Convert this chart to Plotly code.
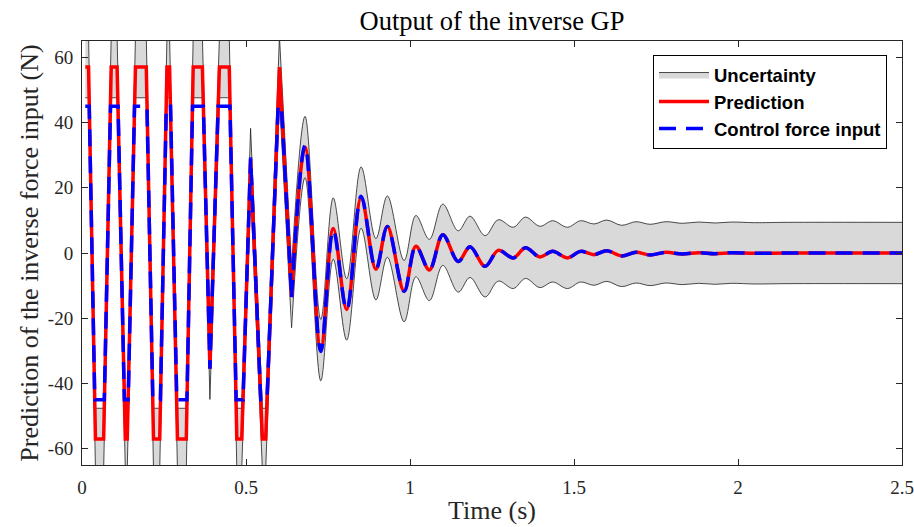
import plotly.graph_objects as go

# ---- data ----
# early (saturated, piecewise-linear) part of the prediction
t_pred_early = [0.010, 0.020, 0.041, 0.066, 0.089, 0.107, 0.132, 0.138, 0.163, 0.196,
                0.218, 0.237, 0.259, 0.267, 0.291, 0.318, 0.339, 0.367, 0.390, 0.419,
                0.449, 0.472, 0.487, 0.514, 0.550, 0.560, 0.602, 0.639]
pred_early = [57, 57, -57, -57, 57, 57, -57, -57, 57, 57,
              -57, -57, 57, 57, -57, -57, 57, 57, -35.5, 57,
              57, -57, -57, 28.8, -57, -57, 57, -13.5]

# early part of the control force input (saturated at +/-45)
t_ctrl_early = [0.010, 0.022, 0.039, 0.068, 0.087, 0.110, 0.129, 0.141, 0.160, 0.198,
                0.216, 0.239, 0.257, 0.270, 0.289, 0.320, 0.337, 0.370, 0.390, 0.415,
                0.451, 0.470, 0.491, 0.514, 0.545, 0.564, 0.598, 0.608, 0.639]
ctrl_early = [45, 45, -45, -45, 45, 45, -45, -45, 45, 45,
              -45, -45, 45, 45, -45, -45, 45, 45, -35.5, 45,
              45, -45, -45, 29.3, -45, -45, 45, 45, -13.5]

# later, smoothly decaying part (extrema)
t_late = [0.639, 0.680, 0.728, 0.766, 0.807, 0.851, 0.896, 0.931, 0.982, 1.018,
          1.059, 1.100, 1.147, 1.183, 1.229, 1.269, 1.315, 1.352, 1.396, 1.435,
          1.480, 1.520, 1.561, 1.600, 1.645, 1.689, 1.732, 1.780, 1.830, 1.880,
          1.930, 1.980, 2.050, 2.150, 2.500]
pred_late = [-13.5, 32.5, -29.8, 7.5, -17.3, 17.0, -5.0, 8.1, -11.7, 2.1,
             -5.2, 5.6, -2.6, 1.9, -4.1, 0.8, -1.5, 1.6, -1.2, 0.5,
             -1.5, 0.5, -0.5, 0.7, -0.9, 0.2, -0.6, 0.2, -0.3, 0.1,
             -0.2, 0.1, -0.1, 0.0, 0.0]
ctrl_late = [-13.5, 33.0, -30.2, 7.0, -17.4, 17.4, -5.0, 8.1, -11.7, 2.1,
             -5.2, 5.6, -2.6, 1.9, -4.1, 0.8, -1.5, 1.6, -1.2, 0.5,
             -1.5, 0.5, -0.5, 0.7, -0.9, 0.2, -0.6, 0.2, -0.3, 0.1,
             -0.2, 0.1, -0.1, 0.0, 0.0]

# half-width of the grey uncertainty band
uncertainty_halfwidth = 9.4

x_tick_vals = [0, 0.5, 1, 1.5, 2, 2.5]
x_tick_text = ['0', '0.5', '1', '1.5', '2', '2.5']
y_tick_vals = [-60, -40, -20, 0, 20, 40, 60]
y_tick_text = ['-60', '-40', '-20', '0', '20', '40', '60']

# ---- figure ----
BAND_FILL = 'rgb(217,217,217)'
BAND_EDGE = 'rgb(30,30,30)'
RED = 'rgb(255,0,0)'
BLUE = 'rgb(0,0,255)'
LW = 3.5
DASH = '17px,10px'

fig = go.Figure()

def band(ts, ps, shape, show):
    lo = [p - uncertainty_halfwidth for p in ps]
    hi = [p + uncertainty_halfwidth for p in ps]
    fig.add_trace(go.Scatter(x=ts, y=lo, mode='lines',
                             line=dict(color=BAND_EDGE, width=0.8, shape=shape),
                             showlegend=False, legendgroup='unc', hoverinfo='skip'))
    fig.add_trace(go.Scatter(x=ts, y=hi, mode='lines', fill='tonexty',
                             fillcolor=BAND_FILL,
                             line=dict(color=BAND_EDGE, width=0.8, shape=shape),
                             name='<b>Uncertainty</b>', showlegend=show,
                             legendgroup='unc', hoverinfo='skip'))

band(t_pred_early, pred_early, 'linear', True)
band(t_late, pred_late, 'spline', False)

fig.add_trace(go.Scatter(x=t_pred_early, y=pred_early, mode='lines',
                         line=dict(color=RED, width=LW),
                         name='<b>Prediction</b>', legendgroup='pred'))
fig.add_trace(go.Scatter(x=t_late, y=pred_late, mode='lines',
                         line=dict(color=RED, width=LW, shape='spline', smoothing=1),
                         showlegend=False, legendgroup='pred'))
fig.add_trace(go.Scatter(x=t_ctrl_early, y=ctrl_early, mode='lines',
                         line=dict(color=BLUE, width=LW, dash=DASH),
                         name='<b>Control force input</b>', legendgroup='ctrl'))
fig.add_trace(go.Scatter(x=t_late, y=ctrl_late, mode='lines',
                         line=dict(color=BLUE, width=LW, dash=DASH,
                                   shape='spline', smoothing=1),
                         showlegend=False, legendgroup='ctrl'))

SERIF = 'Liberation Serif'
AX = 'rgb(38,38,38)'

fig.update_layout(
    width=914, height=527,
    margin=dict(l=82, r=12, t=41, b=62, autoexpand=False),
    paper_bgcolor='white', plot_bgcolor='white',
    title=dict(text='Output of the inverse GP', x=(82 + 410) / 914, xanchor='center',
               y=1 - 21 / 527, yanchor='middle', yref='container',
               font=dict(family=SERIF, size=26.5, color='black')),
    legend=dict(x=0.9817, xanchor='right', y=0.967, yanchor='top',
                bgcolor='white', bordercolor='black', borderwidth=1,
                font=dict(family='Liberation Sans', size=18.5, color='black'),
                itemwidth=50, tracegroupgap=0),
    showlegend=True,
)

fig.update_xaxes(range=[0, 2.5], tickvals=x_tick_vals, ticktext=x_tick_text,
                 ticks='inside', ticklen=6, tickcolor=AX, showline=True, linecolor=AX,
                 linewidth=1, mirror='ticks', showgrid=False, zeroline=False,
                 automargin=False, ticklabelstandoff=5,
                 tickfont=dict(family=SERIF, size=19, color=AX),
                 title=dict(text='Time (s)', font=dict(family=SERIF, size=26, color=AX),
                            standoff=4))
fig.update_yaxes(range=[-65, 65], tickvals=y_tick_vals, ticktext=y_tick_text,
                 ticks='inside', ticklen=6, tickcolor=AX, showline=True, linecolor=AX,
                 linewidth=1, mirror='ticks', showgrid=False, zeroline=False,
                 automargin=False, ticklabelstandoff=4,
                 tickfont=dict(family=SERIF, size=19, color=AX),
                 title=dict(text='Prediction of the inverse force input (N)',
                            font=dict(family=SERIF, size=26, color=AX), standoff=1))

fig.write_html('out.html', config={'displayModeBar': False},
               post_script="document.body.style.margin='0px';")
